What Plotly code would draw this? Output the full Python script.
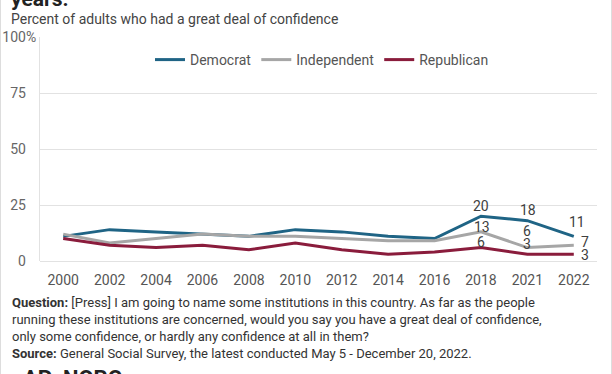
import plotly.graph_objects as go

years = ["2000", "2002", "2004", "2006", "2008", "2010", "2012", "2014", "2016", "2018", "2021", "2022"]
democrat = [11, 14, 13, 12, 11, 14, 13, 11, 10, 20, 18, 11]
independent = [12, 8, 10, 12, 11, 11, 10, 9, 9, 13, 6, 7]
republican = [10, 7, 6, 7, 5, 8, 5, 3, 4, 6, 3, 3]
series_names = ["Democrat", "Independent", "Republican"]
y_tick_vals = [0, 25, 50, 75, 100]
y_tick_text = ["0", "25", "50", "75", "100%"]
labeled_years = ["2018", "2021", "2022"]

W, H = 612, 374
L, R, T, B = 40, 15, 37, 113
PW, PH = W - L - R, H - T - B


def px_x(px):
    return (px - L) / PW


def px_y(py):
    return (H - B - py) / PH


colors = {"Democrat": "#1f6485", "Independent": "#a6a6a6", "Republican": "#8a1c3c"}
FONT = "Roboto"

fig = go.Figure()
for name, vals in zip(series_names, [democrat, independent, republican]):
    fig.add_trace(go.Scatter(
        x=years, y=vals, name=name, mode="lines",
        line=dict(color=colors[name], width=3),
        hoverinfo="skip",
    ))

# data labels: (series, year) -> (xanchor, xshift, yshift)
label_style = {
    ("Democrat", "2018"): ("center", 0, 10),
    ("Democrat", "2021"): ("center", 1, 10.5),
    ("Democrat", "2022"): ("center", 3, 14.5),
    ("Independent", "2018"): ("center", 1, 5),
    ("Independent", "2021"): ("center", 0, 16.5),
    ("Independent", "2022"): ("left", 5, 3),
    ("Republican", "2018"): ("center", 0, 6),
    ("Republican", "2021"): ("center", 0, 10),
    ("Republican", "2022"): ("left", 5, -1),
}
for name, vals in zip(series_names, [democrat, independent, republican]):
    for yr in labeled_years:
        i = years.index(yr)
        xa, xs, ys = label_style[(name, yr)]
        fig.add_annotation(
            x=i, y=vals[i], xref="x", yref="y", text=str(vals[i]),
            showarrow=False, xanchor=xa, yanchor="middle",
            xshift=xs, yshift=ys,
            font=dict(family=FONT, size=14, color="#404040"),
        )

# hidden % spacer so numbers align and % hangs out
tick_text = [t if t.endswith("%") else t + "<span style='color:rgba(0,0,0,0)'>%</span>" for t in y_tick_text]

fig.update_layout(
    width=W, height=H,
    margin=dict(l=L, r=R, t=T, b=B, pad=0),
    paper_bgcolor="white", plot_bgcolor="white",
    font=dict(family=FONT, size=14, color="#555555"),
    showlegend=True,
    legend=dict(
        orientation="h", x=px_x(322), xanchor="center", y=px_y(60), yanchor="middle",
        font=dict(family=FONT, size=14, color="#555555"),
        bgcolor="rgba(0,0,0,0)", itemwidth=30, tracegroupgap=0,
    ),
    xaxis=dict(
        type="category", range=[-0.5, len(years) - 0.5],
        showgrid=False, zeroline=False, showline=False,
        ticks="", ticklabelstandoff=9,
        tickfont=dict(family=FONT, size=14, color="#555555"),
        automargin=False, fixedrange=True,
    ),
    yaxis=dict(
        range=[0, 100], tickvals=y_tick_vals, ticktext=tick_text,
        showgrid=True, gridcolor="#e2e2e2", gridwidth=1,
        zeroline=True, zerolinecolor="#e2e2e2", zerolinewidth=1,
        showline=True, linecolor="#e2e2e2", linewidth=1,
        ticks="", tickfont=dict(family=FONT, size=14, color="#666666"),
        automargin=False, fixedrange=True,
    ),
)

# card border
fig.add_shape(type="rect", xref="paper", yref="paper",
              x0=px_x(0.5), x1=px_x(611.5), y0=px_y(420), y1=px_y(-40),
              line=dict(color="#dddddd", width=1), fillcolor="rgba(0,0,0,0)", layer="below")

# title tail (cut off at top)
fig.add_annotation(xref="paper", yref="paper", x=px_x(9), y=px_y(13), xanchor="left", yanchor="bottom",
                   text="<b>years.</b>", showarrow=False,
                   font=dict(family=FONT, size=21, color="#222222"))
# subtitle
fig.add_annotation(xref="paper", yref="paper", x=px_x(9), y=px_y(19), xanchor="left", yanchor="middle",
                   text="Percent of adults who had a great deal of confidence", showarrow=False,
                   font=dict(family=FONT, size=14, color="#444444"))
# question & source
fig.add_annotation(xref="paper", yref="paper", x=px_x(10), y=px_y(293), xanchor="left", yanchor="top",
                   align="left", showarrow=False,
                   text=("<b>Question:</b> [Press] I am going to name some institutions in this country. As far as the people<br>"
                         "running these institutions are concerned, would you say you have a great deal of confidence,<br>"
                         "only some confidence, or hardly any confidence at all in them?<br>"
                         "<b>Source:</b> General Social Survey, the latest conducted May 5 - December 20, 2022."),
                   font=dict(family=FONT, size=13, color="#333333"))
# logo (cut off at bottom)
fig.add_annotation(xref="paper", yref="paper", x=px_x(21), y=px_y(364), xanchor="left", yanchor="top",
                   text="<b>AP  NORC</b>", showarrow=False,
                   font=dict(family=FONT, size=22, color="#222222"))

fig.write_html("out.html", config={"displayModeBar": False},
               post_script="document.body.style.margin='0';")
